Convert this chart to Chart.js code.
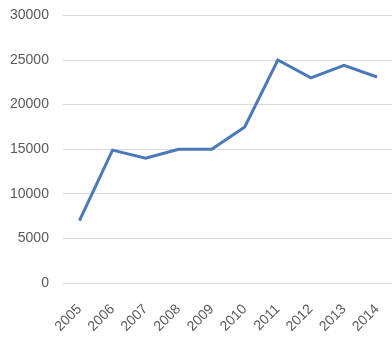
<!DOCTYPE html>
<html>
<head>
<meta charset="utf-8">
<script src="https://cdn.jsdelivr.net/npm/chart.js@4/dist/chart.umd.min.js"></script>
<style>
  html, body { margin: 0; padding: 0; background: #fff; }
  #frame { position: relative; width: 392px; height: 340px; overflow: hidden; }
  #wrap { position: absolute; left: -12px; top: -7px; width: 411px; height: 354px; }
</style>
</head>
<body>
<div id="frame"><div id="wrap"><canvas id="chart"></canvas></div></div>
<script>
const years = ['2005', '2006', '2007', '2008', '2009', '2010', '2011', '2012', '2013', '2014'];
const values = [7000, 14900, 14000, 15000, 15000, 17500, 25000, 23000, 24400, 23100];

new Chart(document.getElementById('chart'), {
  type: 'line',
  data: {
    labels: years,
    datasets: [{
      data: values,
      borderColor: '#4a78b8',
      borderWidth: 3,
      pointRadius: 0,
      fill: false,
      tension: 0
    }]
  },
  options: {
    responsive: true,
    maintainAspectRatio: false,
    animation: false,
    layout: { padding: { top: 0, right: 2, left: 8, bottom: 2 } },
    plugins: { legend: { display: false }, tooltip: { enabled: false } },
    scales: {
      x: {
        offset: true,
        grid: { display: false },
        border: { display: false },
        ticks: {
          color: '#595959',
          font: { family: 'Liberation Sans', size: 14 },
          maxRotation: 45,
          minRotation: 45,
          padding: 10
        }
      },
      y: {
        min: 0,
        max: 30000,
        ticks: {
          stepSize: 5000,
          color: '#595959',
          font: { family: 'Liberation Sans', size: 14 },
          padding: 14,
          callback: v => String(v)
        },
        grid: { color: '#d9d9d9', drawTicks: false },
        border: { display: false }
      }
    }
  }
});
</script>
</body>
</html>
